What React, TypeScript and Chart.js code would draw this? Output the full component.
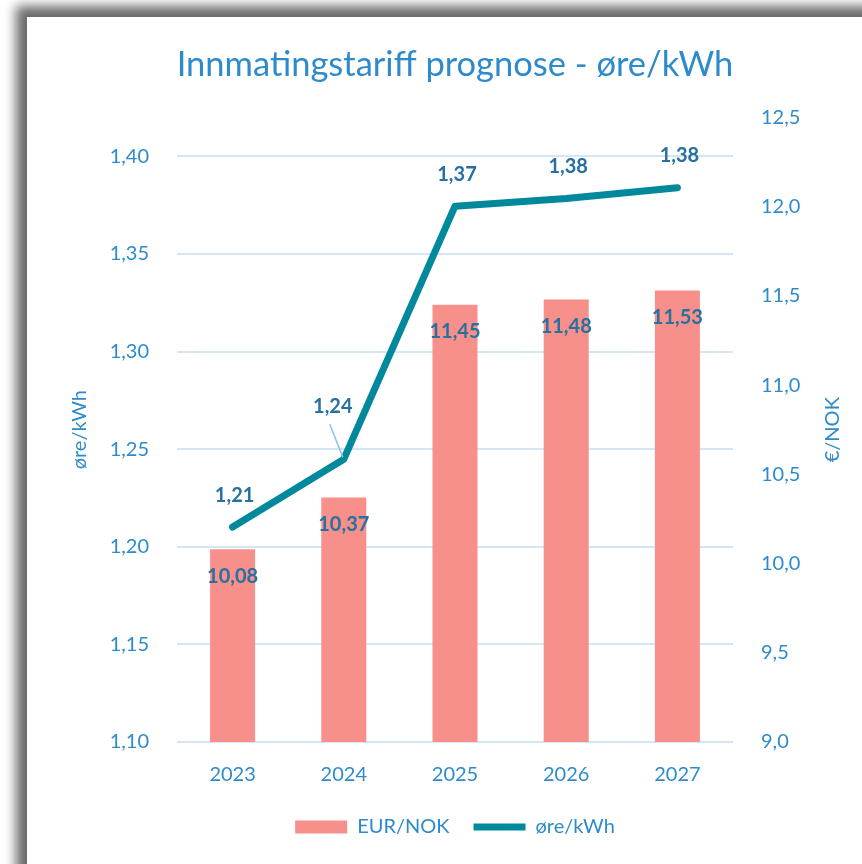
import React, { useEffect, useRef } from 'react';
import { Chart, registerables } from 'chart.js';

Chart.register(...registerables);

const categories = ['2023', '2024', '2025', '2026', '2027'];
const eurNok = [10.08, 10.37, 11.45, 11.48, 11.53];
const oreKwh = [1.2101, 1.2449, 1.3745, 1.3785, 1.384];
const leftAxisMin = 1.1;
const leftAxisMax = 1.42;
const leftAxisStep = 0.05;
const rightAxisMin = 9.0;
const rightAxisMax = 12.5;
const rightAxisStep = 0.5;

const TITLE = 'Innmatingstariff prognose - øre/kWh';
const SERIES_BAR = 'EUR/NOK';
const SERIES_LINE = 'øre/kWh';
const LEFT_TITLE = 'øre/kWh';
const RIGHT_TITLE = '€/NOK';

const FONT = 'Lato';
const BLUE = '#2E8BCB';
const LABEL_BLUE = '#27709F';
const BAR_COLOR = '#F78F8A';
const LINE_COLOR = '#00889D';
const GRID_COLOR = '#D4E6F5';

const fmt = (v: number, d: number) => v.toFixed(d).replace('.', ',');

const valueLabels = {
  id: 'valueLabels',
  afterDatasetsDraw(chart: any) {
    const ctx = chart.ctx as CanvasRenderingContext2D;
    ctx.save();
    ctx.font = `bold 20px ${FONT}`;
    ctx.fillStyle = LABEL_BLUE;
    ctx.textAlign = 'center';
    ctx.textBaseline = 'middle';
    const barMeta = chart.getDatasetMeta(0);
    barMeta.data.forEach((el: any, i: number) => {
      ctx.fillText(fmt(eurNok[i], 2), el.x, el.y + 27);
    });
    const lineMeta = chart.getDatasetMeta(1);
    lineMeta.data.forEach((el: any, i: number) => {
      if (i === 1) {
        ctx.save();
        ctx.strokeStyle = '#8CC0E6';
        ctx.lineWidth = 1.5;
        ctx.beginPath();
        ctx.moveTo(el.x - 14, el.y - 35);
        ctx.lineTo(el.x - 1, el.y - 2);
        ctx.stroke();
        ctx.restore();
        ctx.fillText(fmt(oreKwh[i], 2), el.x - 11, el.y - 53);
      } else {
        ctx.fillText(fmt(oreKwh[i], 2), el.x + 2, el.y - 32);
      }
    });
    // right axis title, reading bottom to top
    const ys = chart.scales.y1;
    ctx.font = `20px ${FONT}`;
    ctx.fillStyle = BLUE;
    ctx.translate(ys.left + 100, (chart.chartArea.top + chart.chartArea.bottom) / 2);
    ctx.rotate(-Math.PI / 2);
    ctx.fillText(RIGHT_TITLE, 0, 0);
    ctx.restore();
  },
};

export default function App() {
  const ref = useRef<HTMLCanvasElement>(null);
  useEffect(() => {
    const chart = new Chart(ref.current as HTMLCanvasElement, {
      type: 'bar',
      data: {
        labels: categories,
        datasets: [
          {
            type: 'bar',
            label: SERIES_BAR,
            data: eurNok,
            yAxisID: 'y1',
            backgroundColor: BAR_COLOR,
            borderWidth: 0,
            categoryPercentage: 1,
            barPercentage: 0.405,
            pointStyle: 'rect',
          } as any,
          {
            type: 'line',
            label: SERIES_LINE,
            data: oreKwh,
            yAxisID: 'y',
            borderColor: LINE_COLOR,
            backgroundColor: LINE_COLOR,
            borderWidth: 7,
            borderCapStyle: 'round',
            borderJoinStyle: 'round',
            pointRadius: 0,
            pointHoverRadius: 0,
            tension: 0,
            pointStyle: 'line',
          } as any,
        ],
      },
      options: {
        responsive: false,
        animation: false,
        devicePixelRatio: 1,
        layout: { padding: { top: 0, left: 0, right: 0, bottom: 17 } },
        plugins: {
          tooltip: { enabled: false },
          title: {
            display: true,
            text: TITLE,
            color: BLUE,
            font: { family: FONT, size: 34.5, weight: 'normal' },
            padding: { top: 27, bottom: 32 },
          },
          legend: {
            display: true,
            position: 'bottom',
            labels: {
              usePointStyle: true,
              pointStyleWidth: 52,
              boxHeight: 13,
              color: BLUE,
              font: { family: FONT, size: 20 },
              padding: 24,
            },
          },
        },
        scales: {
          x: {
            type: 'category',
            offset: true,
            grid: { display: false },
            border: { display: false },
            ticks: { color: BLUE, font: { family: FONT, size: 20 }, padding: 13 },
            afterFit: (s: any) => { s.height = 51; },
          },
          y: {
            type: 'linear',
            position: 'left',
            min: leftAxisMin,
            max: leftAxisMax,
            grid: { color: GRID_COLOR, lineWidth: 2, drawTicks: false },
            border: { display: false },
            ticks: {
              stepSize: leftAxisStep,
              includeBounds: false,
              color: BLUE,
              padding: 28,
              font: { family: FONT, size: 20 },
              callback: (v: any) => fmt(Number(v), 2),
            },
            title: {
              display: true,
              text: LEFT_TITLE,
              color: BLUE,
              font: { family: FONT, size: 20 },
              padding: { top: 41, bottom: 0 },
            },
            afterFit: (s: any) => { s.width = 150; },
          },
          y1: {
            type: 'linear',
            position: 'right',
            min: rightAxisMin,
            max: rightAxisMax,
            grid: { display: false, drawTicks: false },
            border: { display: false },
            ticks: {
              stepSize: rightAxisStep,
              color: BLUE,
              padding: 28,
              font: { family: FONT, size: 20 },
              callback: (v: any) => fmt(Number(v), 1),
            },
            afterFit: (s: any) => { s.width = 150; },
          },
        },
      } as any,
      plugins: [valueLabels],
    });
    return () => chart.destroy();
  }, []);
  return (
    <div
      style={{
        position: 'fixed',
        left: 27,
        top: 17,
        width: 900,
        height: 900,
        background: '#ffffff',
        boxShadow: '0 0 11px 11px #6a6a6a',
        overflow: 'hidden',
      }}
    >
      <canvas ref={ref} width={856} height={847} style={{ display: 'block', width: 856, height: 847 }} />
    </div>
  );
}
